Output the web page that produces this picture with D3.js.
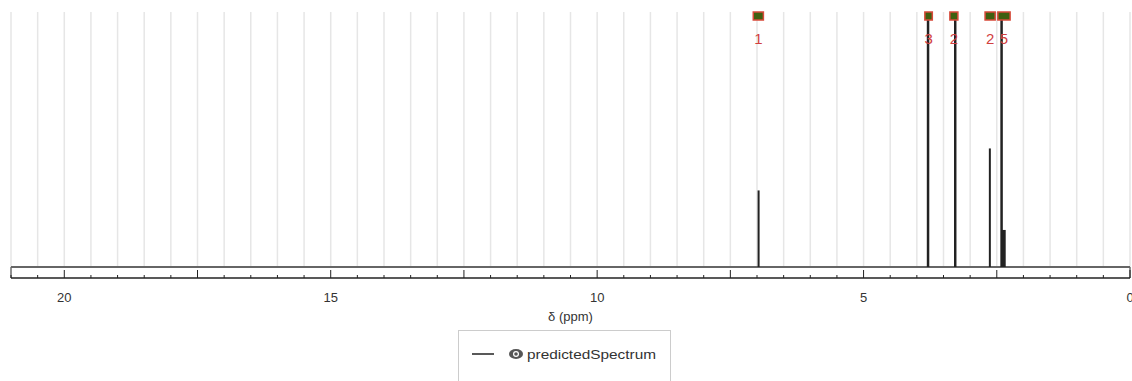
<!DOCTYPE html>
<html>
<head>
<meta charset="utf-8">
<script src="https://cdn.jsdelivr.net/npm/d3@7"></script>
<style>
  html, body { margin: 0; padding: 0; background: #fff; }
  svg { display: block; font-family: "Liberation Sans", Arial, sans-serif; }
</style>
</head>
<body>
<div id="chart"></div>
<script>
// peaks of the predicted spectrum: chemical shift (ppm) and relative intensity
const peakShift = [6.97, 3.79, 3.28, 2.63, 2.41, 2.37];
const peakIntensity = [31, 100, 100, 48, 100, 15];
const peakWidth = [2, 2.5, 2.5, 2, 2.5, 4];

// integration ranges above the plot
const rangeFrom = [7.07, 3.85, 3.38, 2.72, 2.48];
const rangeTo = [6.88, 3.71, 3.23, 2.53, 2.25];
const rangeLabel = ["1", "3", "2", "2", "5"];

const xTickLabels = [20, 15, 10, 5, 0];
const seriesName = "predictedSpectrum";

const COLOR = {
  grid: "#e6e6e6",
  axis: "#222",
  base: "#666",
  peak: "#222",
  text: "#333",
  rangeFill: "#3f5f10",
  rangeStroke: "#d84a3a",
  label: "#d23f3f",
};

const width = 1132, height = 381;
const plot = { left: 11, right: 1130, top: 12, base: 267, axis: 278 };

const x = d3.scaleLinear().domain([21, 0]).range([plot.left, plot.right]);
const y = d3.scaleLinear().domain([0, 100]).range([plot.base, 20]).clamp(true);

const svg = d3.select("#chart").append("svg")
  .attr("width", width).attr("height", height);

// ---- vertical grid every 0.5 ppm ----
const gridVals = d3.range(0, 21.01, 0.5);
svg.append("g").selectAll("line").data(gridVals).join("line")
  .attr("x1", d => x(d)).attr("x2", d => x(d))
  .attr("y1", plot.top).attr("y2", plot.base)
  .attr("stroke", COLOR.grid).attr("stroke-width", 1.5);

// ---- axis box + ticks ----
const ax = svg.append("g");
ax.append("line")
  .attr("x1", plot.left).attr("x2", plot.right)
  .attr("y1", plot.axis).attr("y2", plot.axis)
  .attr("stroke", COLOR.axis).attr("stroke-width", 1.5);
[plot.left, plot.right].forEach(px => {
  ax.append("line")
    .attr("x1", px).attr("x2", px)
    .attr("y1", plot.base).attr("y2", plot.axis)
    .attr("stroke", COLOR.axis).attr("stroke-width", 1);
});
ax.selectAll("line.tick").data(gridVals).join("line")
  .attr("class", "tick")
  .attr("x1", d => x(d)).attr("x2", d => x(d))
  .attr("y1", d => (d % 2.5 === 0 ? plot.axis - 8 : plot.axis - 3))
  .attr("y2", plot.axis)
  .attr("stroke", COLOR.axis).attr("stroke-width", 1);
ax.selectAll("text").data(xTickLabels).join("text")
  .attr("x", d => x(d)).attr("y", 302)
  .attr("text-anchor", "middle")
  .attr("font-size", 13)
  .attr("fill", COLOR.text)
  .text(d => d);
ax.append("text")
  .attr("x", (plot.left + plot.right) / 2).attr("y", 321)
  .attr("text-anchor", "middle")
  .attr("font-size", 13).attr("fill", COLOR.text)
  .text("δ (ppm)");

// ---- spectrum baseline ----
svg.append("line")
  .attr("x1", plot.left).attr("x2", plot.right)
  .attr("y1", plot.base).attr("y2", plot.base)
  .attr("stroke", COLOR.base).attr("stroke-width", 2);

// ---- peaks ----
svg.append("g").selectAll("line").data(peakShift).join("line")
  .attr("x1", d => x(d)).attr("x2", d => x(d))
  .attr("y1", y(0))
  .attr("y2", (d, i) => y(peakIntensity[i]))
  .attr("stroke", COLOR.peak)
  .attr("stroke-width", (d, i) => peakWidth[i]);

// ---- integration ranges ----
const rg = svg.append("g");
rg.selectAll("rect").data(rangeFrom).join("rect")
  .attr("x", (d, i) => x(d))
  .attr("y", 12)
  .attr("width", (d, i) => x(rangeTo[i]) - x(d))
  .attr("height", 8)
  .attr("fill", COLOR.rangeFill)
  .attr("stroke", COLOR.rangeStroke).attr("stroke-width", 1.5);
rg.selectAll("text").data(rangeLabel).join("text")
  .attr("x", (d, i) => (x(rangeFrom[i]) + x(rangeTo[i])) / 2)
  .attr("y", 44)
  .attr("text-anchor", "middle")
  .attr("font-size", 15)
  .attr("fill", COLOR.label)
  .text(d => d);

// ---- legend ----
const lg = svg.append("g");
lg.append("rect")
  .attr("x", 458.5).attr("y", 330.5).attr("width", 212).attr("height", 60)
  .attr("fill", "#fff").attr("stroke", "#ccc");
lg.append("line")
  .attr("x1", 472).attr("x2", 494).attr("y1", 354).attr("y2", 354)
  .attr("stroke", COLOR.peak).attr("stroke-width", 1.5);
const eye = lg.append("g").attr("transform", "translate(516,354)");
eye.append("ellipse").attr("rx", 7).attr("ry", 5).attr("fill", "#555");
eye.append("circle").attr("r", 3).attr("fill", "#fff");
eye.append("circle").attr("r", 1.8).attr("fill", "#555");
lg.append("text")
  .attr("x", 527).attr("y", 359)
  .attr("font-size", 13).attr("fill", COLOR.text)
  .attr("textLength", 129).attr("lengthAdjust", "spacingAndGlyphs")
  .text(seriesName);
</script>
</body>
</html>
